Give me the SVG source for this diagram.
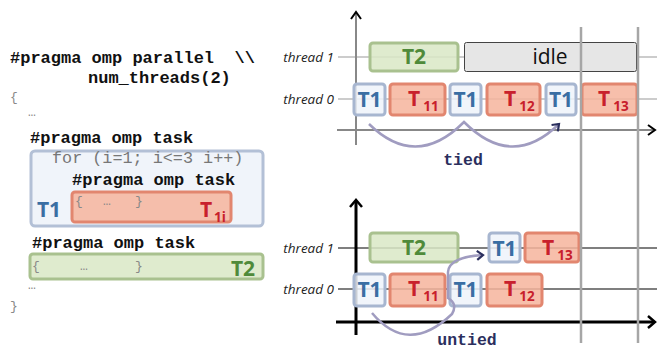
<svg xmlns="http://www.w3.org/2000/svg" width="657" height="351" viewBox="0 0 657 351">
  <defs>
    <style>
      .code { font-family: "Liberation Mono", "DejaVu Sans Mono", monospace; font-weight: bold; font-size: 17px; fill: #111; }
      .code-g { font-family: "Liberation Mono", "DejaVu Sans Mono", monospace; font-size: 16.8px; fill: #777; }
      .small-g { font-family: "Liberation Mono", "DejaVu Sans Mono", monospace; font-size: 13px; fill: #888; }
      .thr { font-family: "Open Sans", "Liberation Sans", sans-serif; font-style: italic; font-size: 13.5px; fill: #222; text-anchor: end; }
      .lbl { font-family: "Open Sans", "Liberation Sans", sans-serif; font-weight: bold; font-size: 21px; text-anchor: middle; }
      .sub { font-size: 13.5px; }
      .t1 { fill: #eef3fa; fill-opacity: 0.85; stroke: #a7b6d0; stroke-width: 3; }
      .tr { fill: #f6b49c; fill-opacity: 0.85; stroke: #e2866f; stroke-width: 3; }
      .tg { fill: #d9e8c6; fill-opacity: 0.85; stroke: #a9c18f; stroke-width: 3; }
      .blue { fill: #3a6ea3; }
      .red { fill: #c8202c; }
      .green { fill: #4f8a3a; }
      .mode { font-family: "Liberation Mono", "DejaVu Sans Mono", monospace; font-weight: bold; font-size: 16.5px; fill: #2b2f5e; text-anchor: middle; }
      .flow { fill: none; stroke: #a09cc0; stroke-width: 2.5; }
    </style>
    <marker id="head" markerUnits="userSpaceOnUse" markerWidth="12" markerHeight="12" refX="8" refY="6" orient="auto">
      <path d="M2,1.5 L8,6 L2,10.5" fill="none" stroke="#2b2f5e" stroke-width="2.2"/>
    </marker>
  </defs>

  <!-- source code -->
  <g id="code">
    <text class="code" x="10" y="63" xml:space="preserve">#pragma omp parallel  \\</text>
    <text class="code" x="88" y="83">num_threads(2)</text>
    <text class="small-g" x="10" y="101">{</text>
    <text class="small-g" x="28" y="116">…</text>
    <text class="code" x="30" y="143">#pragma omp task</text>
  </g>

  <g id="code-task-t1">
    <rect x="31" y="151" width="232" height="75" rx="4" fill="#f0f4fa" stroke="#b3c0d6" stroke-width="3"/>
    <text class="code-g" x="52" y="163">for (i=1; i&lt;=3 i++)</text>
    <text class="code" x="72" y="185">#pragma omp task</text>
    <text class="lbl blue" x="49" y="217">T1</text>
  </g>

  <g id="code-task-t1i">
    <rect x="72" y="192" width="159" height="30" rx="3" class="tr" fill-opacity="1"/>
    <text class="small-g" x="75" y="205">{</text>
    <text class="small-g" x="103" y="205">…</text>
    <text class="small-g" x="135" y="205">}</text>
    <text class="lbl red" x="206" y="217">T</text>
    <text class="lbl red sub" x="220" y="222">1i</text>
  </g>

  <g id="code-task-t2">
    <text class="code" x="32" y="248">#pragma omp task</text>
    <rect x="30" y="254" width="233" height="25" rx="3" class="tg" fill-opacity="1"/>
    <text class="small-g" x="32" y="270">{</text>
    <text class="small-g" x="80" y="270">…</text>
    <text class="small-g" x="135" y="270">}</text>
    <text class="lbl green" x="243" y="276">T2</text>
  </g>

  <g id="code-end">
    <text class="small-g" x="28" y="289">…</text>
    <text class="small-g" x="10" y="310">}</text>
  </g>

  <!-- tied schedule: axes and grid -->
  <g id="tied-axes">
    <line x1="338" y1="57" x2="657" y2="57" stroke="#999" stroke-width="1.2"/>
    <line x1="338" y1="99" x2="657" y2="99" stroke="#999" stroke-width="1.2"/>
    <line x1="356" y1="13" x2="356" y2="145" stroke="#888" stroke-width="2"/>
    <polyline points="351,19 356,12 361,19" fill="none" stroke="#000" stroke-width="2"/>
    <line x1="337" y1="130" x2="654" y2="130" stroke="#888" stroke-width="2"/>
    <polyline points="648,125 655,130 648,135" fill="none" stroke="#000" stroke-width="2"/>
    <text class="thr" x="334" y="62">thread 1</text>
    <text class="thr" x="334" y="104">thread 0</text>
  </g>

  <!-- untied schedule: axes and grid -->
  <g id="untied-axes">
    <line x1="338" y1="248" x2="657" y2="248" stroke="#000" stroke-width="1.2"/>
    <line x1="338" y1="289" x2="657" y2="289" stroke="#000" stroke-width="1.2"/>
    <line x1="356" y1="201" x2="356" y2="335" stroke="#000" stroke-width="3"/>
    <polyline points="350,207 356,200 362,207" fill="none" stroke="#000" stroke-width="2.5"/>
    <line x1="336" y1="322" x2="654" y2="322" stroke="#000" stroke-width="3"/>
    <polyline points="648,316 655,322 648,328" fill="none" stroke="#000" stroke-width="2.5"/>
    <text class="thr" x="334" y="253">thread 1</text>
    <text class="thr" x="334" y="294">thread 0</text>
  </g>

  <!-- tied: thread 1 -->
  <g id="tied-t2">
    <rect x="370" y="43" width="88" height="28" rx="3" class="tg"/>
    <text class="lbl green" x="414" y="64">T2</text>
  </g>
  <g id="tied-idle">
    <rect x="464.5" y="42.5" width="172" height="29" rx="2" fill="#e6e6e6" stroke="#444" stroke-width="1"/>
    <text x="550" y="64" font-family="Open Sans, Liberation Sans, sans-serif" font-size="21" fill="#111" text-anchor="middle">idle</text>
  </g>

  <!-- tied: thread 0 -->
  <g id="tied-t1-a">
    <rect x="354" y="84" width="31" height="31" rx="3" class="t1"/>
    <text class="lbl blue" x="369.5" y="107">T1</text>
  </g>
  <g id="tied-t11">
    <rect x="390" y="84" width="55" height="31" rx="3" class="tr"/>
    <text class="lbl red" x="414" y="106">T</text>
    <text class="lbl red sub" x="431" y="111">11</text>
  </g>
  <g id="tied-t1-b">
    <rect x="450" y="84" width="31" height="31" rx="3" class="t1"/>
    <text class="lbl blue" x="465.5" y="107">T1</text>
  </g>
  <g id="tied-t12">
    <rect x="487" y="84" width="53" height="31" rx="3" class="tr"/>
    <text class="lbl red" x="510" y="106">T</text>
    <text class="lbl red sub" x="527" y="111">12</text>
  </g>
  <g id="tied-t1-c">
    <rect x="546" y="84" width="30" height="31" rx="3" class="t1"/>
    <text class="lbl blue" x="561" y="107">T1</text>
  </g>
  <g id="tied-t13">
    <rect x="582" y="84" width="55" height="31" rx="3" class="tr"/>
    <text class="lbl red" x="604" y="106">T</text>
    <text class="lbl red sub" x="621" y="111">13</text>
  </g>

  <!-- untied: thread 1 -->
  <g id="untied-t2">
    <rect x="370" y="233" width="88" height="29" rx="3" class="tg"/>
    <text class="lbl green" x="414" y="255">T2</text>
  </g>
  <g id="untied-t1-c">
    <rect x="489" y="233" width="31" height="29" rx="3" class="t1"/>
    <text class="lbl blue" x="504.5" y="256">T1</text>
  </g>
  <g id="untied-t13">
    <rect x="525" y="233" width="54" height="29" rx="3" class="tr"/>
    <text class="lbl red" x="548" y="255">T</text>
    <text class="lbl red sub" x="565" y="260">13</text>
  </g>

  <!-- untied: thread 0 -->
  <g id="untied-t1-a">
    <rect x="354" y="274" width="31" height="32" rx="3" class="t1"/>
    <text class="lbl blue" x="369.5" y="297">T1</text>
  </g>
  <g id="untied-t11">
    <rect x="390" y="274" width="55" height="32" rx="3" class="tr"/>
    <text class="lbl red" x="414" y="296">T</text>
    <text class="lbl red sub" x="431" y="301">11</text>
  </g>
  <g id="untied-t1-b">
    <rect x="450" y="274" width="31" height="32" rx="3" class="t1"/>
    <text class="lbl blue" x="465.5" y="297">T1</text>
  </g>
  <g id="untied-t12">
    <rect x="487" y="274" width="55" height="32" rx="3" class="tr"/>
    <text class="lbl red" x="510" y="296">T</text>
    <text class="lbl red sub" x="527" y="301">12</text>
  </g>

  <!-- time markers -->
  <g id="time-marks" stroke="#a6a6a6" stroke-width="2.5">
    <line x1="581" y1="27" x2="581" y2="343"/>
    <line x1="638" y1="27" x2="638" y2="343"/>
  </g>

  <!-- resumption paths of T1 -->
  <g id="connectors">
    <path class="flow" d="M369,124 Q416,170 464,122 Q512,170 559,124" marker-end="url(#head)"/>
    <text class="mode" x="463" y="165">tied</text>
    <path class="flow" d="M372,313 Q408,356 452,314 Q458,304 448,298 L448,272 Q449,257 483,255" marker-end="url(#head)"/>
    <text class="mode" x="467" y="345">untied</text>
  </g>
</svg>
